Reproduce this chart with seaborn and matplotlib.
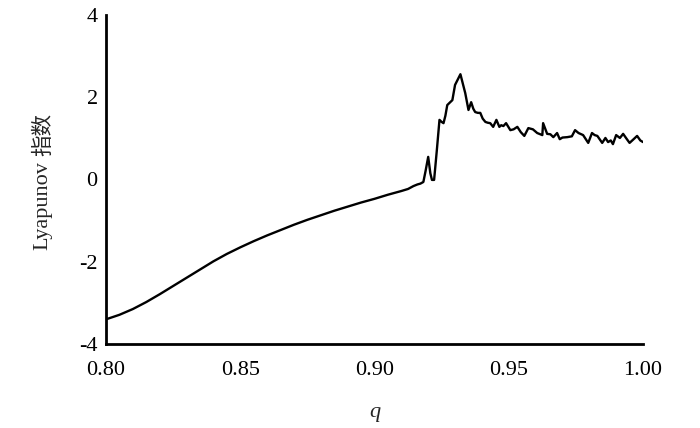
import matplotlib
matplotlib.use("Agg")
import matplotlib.pyplot as plt
import seaborn as sns
import numpy as np
import pandas as pd

# ---- data ----
q_smooth = [0.800, 0.805, 0.810, 0.815, 0.820, 0.825, 0.830, 0.835, 0.840, 0.845,
            0.850, 0.855, 0.860, 0.865, 0.870, 0.875, 0.880, 0.885, 0.890, 0.895,
            0.900, 0.905, 0.910, 0.9125]
lyap_smooth = [-3.40, -3.29, -3.15, -2.98, -2.79, -2.59, -2.39, -2.19, -1.99, -1.81,
               -1.65, -1.50, -1.36, -1.23, -1.10, -0.98, -0.87, -0.76, -0.66, -0.56,
               -0.47, -0.37, -0.28, -0.23]

q_chaos = [0.9145, 0.9160, 0.9171, 0.9182, 0.9190, 0.9200, 0.9208, 0.9214, 0.9222, 0.9232,
           0.9242, 0.9250, 0.9257, 0.9264, 0.9271, 0.9282, 0.9290, 0.9300, 0.9320, 0.9338,
           0.9350, 0.9360, 0.9368, 0.9375, 0.9385, 0.9394, 0.9403, 0.9413, 0.9422, 0.9431,
           0.9442, 0.9454, 0.9465, 0.9472, 0.9480, 0.9490, 0.9506, 0.9518, 0.9532, 0.9545,
           0.9558, 0.9573, 0.9590, 0.9606, 0.9625, 0.9628, 0.9643, 0.9655, 0.9666, 0.9680,
           0.9690, 0.9700, 0.9718, 0.9735, 0.9747, 0.9760, 0.9777, 0.9796, 0.9810, 0.9820,
           0.9830, 0.9848, 0.9860, 0.9870, 0.9880, 0.9888, 0.9900, 0.9914, 0.9926, 0.9940,
           0.9950, 0.9965, 0.9978, 0.9990, 1.0000]
lyap_chaos = [-0.16, -0.12, -0.10, -0.06, 0.20, 0.55, 0.15, -0.01, -0.01, 0.70,
              1.45, 1.40, 1.37, 1.55, 1.81, 1.88, 1.93, 2.30, 2.56, 2.10,
              1.69, 1.88, 1.72, 1.64, 1.62, 1.62, 1.48, 1.40, 1.38, 1.37,
              1.28, 1.45, 1.28, 1.32, 1.30, 1.37, 1.20, 1.22, 1.28, 1.15,
              1.06, 1.25, 1.22, 1.13, 1.08, 1.37, 1.11, 1.10, 1.03, 1.13,
              0.98, 1.02, 1.03, 1.05, 1.20, 1.13, 1.08, 0.89, 1.13, 1.08,
              1.06, 0.89, 1.01, 0.91, 0.95, 0.86, 1.08, 1.01, 1.11, 0.98,
              0.89, 0.98, 1.06, 0.95, 0.91]

x_ticks = [0.80, 0.85, 0.90, 0.95, 1.00]
x_ticklabels = ["0.80", "0.85", "0.90", "0.95", "1.00"]
y_ticks = [-4, -2, 0, 2, 4]
y_ticklabels = ["-4", "-2", "0", "2", "4"]
x_label = "q"
y_label_latin = "Lyapunov"
y_label_cjk = "指数"

df = pd.DataFrame({"q": q_smooth + q_chaos, "lyap": lyap_smooth + lyap_chaos})

# ---- style ----
sns.set_style("white")
plt.rcParams["font.family"] = ["Liberation Serif", "Noto Sans CJK SC", "DejaVu Sans"]
plt.rcParams["axes.unicode_minus"] = False

fig = plt.figure(figsize=(7.0, 4.28), dpi=100)
ax = fig.add_axes([106 / 700, 1 - 344 / 428, (643 - 106) / 700, (344 - 15) / 428])

sns.lineplot(data=df, x="q", y="lyap", color="black", linewidth=1.7, sort=False,
             estimator=None, ax=ax)
for ln in ax.get_lines():
    ln.set_solid_joinstyle("round")
    ln.set_solid_capstyle("round")

ax.set_xlim(0.80, 1.00)
ax.set_ylim(-4, 4)
ax.set_xticks(x_ticks)
ax.set_xticklabels(x_ticklabels)
ax.set_yticks(y_ticks)
ax.set_yticklabels(y_ticklabels)

for s in ["top", "right"]:
    ax.spines[s].set_visible(False)
for s in ["left", "bottom"]:
    ax.spines[s].set_linewidth(2.0)
    ax.spines[s].set_color("black")

ax.tick_params(axis="both", direction="in", length=7, width=2.0, colors="black",
               labelsize=16)
ax.tick_params(axis="x", pad=12)
ax.tick_params(axis="y", pad=6)

ax.set_xlabel(x_label, fontsize=16, style="italic", labelpad=17)
ax.set_ylabel(y_label_latin, fontsize=16, labelpad=19, family="Liberation Serif")
# shift the latin part down so the whole "Lyapunov 指数" is centred on the axis
ax.yaxis.label.set_y(0.42)

fig.canvas.draw()
bb = ax.yaxis.label.get_window_extent(renderer=fig.canvas.get_renderer())
W, H = fig.bbox.width, fig.bbox.height
fig.text((bb.x0 + bb.x1) / 2 / W + 0.5 / W, (bb.y1 + 5) / H, y_label_cjk,
         rotation=90, ha="center", va="bottom", fontsize=15.5,
         family="Noto Sans CJK SC")

fig.savefig("out.png", dpi=100)
